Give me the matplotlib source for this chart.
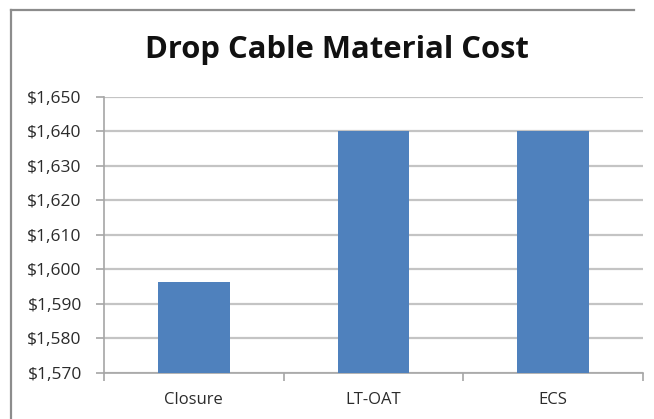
#!/usr/bin/env python3

import matplotlib
matplotlib.use("Agg")
import matplotlib.pyplot as plt
from matplotlib.lines import Line2D
from matplotlib.ticker import FuncFormatter, MultipleLocator

# ----------------------------
# Data
# ----------------------------
categories = ["Closure", "LT-OAT", "ECS"]
costs = [1596.3, 1640, 1640]
title = "Drop Cable Material Cost"
y_min, y_max, y_step = 1570, 1650, 10

bar_color = "#4f81bd"
grid_color = "#c4c4c4"
axis_color = "#a6a6a6"
text_color = "#2b2b2b"


def money(v, pos):
    return f"${v:,.0f}"


def main():
    plt.rcParams["font.family"] = ["Open Sans", "DejaVu Sans"]

    fig = plt.figure(figsize=(6.54, 4.19), dpi=100)
    W, H = 654, 419
    ax = fig.add_axes([104 / W, 1 - 373 / H, (643 - 104) / W, (373 - 97) / H])

    x = range(len(categories))
    ax.bar(x, costs, width=0.4, color=bar_color, zorder=3)

    ax.set_xlim(-0.5, len(categories) - 0.5)
    ax.set_ylim(y_min, y_max)
    ax.yaxis.set_major_locator(MultipleLocator(y_step))
    ax.yaxis.set_major_formatter(FuncFormatter(money))
    ax.grid(axis="y", color=grid_color, linewidth=1.6, zorder=0)

    # category labels centred under bars, tick marks between categories
    ax.set_xticks(list(x))
    ax.set_xticklabels(categories, fontsize=12, color=text_color)
    ax.tick_params(axis="x", length=0, pad=14)
    ax.set_xticks([i + 0.5 for i in range(-1, len(categories))], minor=True)
    ax.tick_params(axis="x", which="minor", length=6, width=1.2, color=axis_color)
    ax.tick_params(axis="y", length=6, width=1.2, color=axis_color,
                   labelsize=12.5, labelcolor=text_color, pad=10)

    for side in ("top", "right"):
        ax.spines[side].set_visible(False)
    for side in ("left", "bottom"):
        ax.spines[side].set_color(axis_color)
        ax.spines[side].set_linewidth(1.2)

    fig.text(337 / W, 1 - 50 / H, title, ha="center", va="center",
             fontsize=22.3, fontweight="bold", color="#111111")

    # chart frame: top and left edges
    frame = dict(color="#8c8c8c", linewidth=1.6, transform=fig.transFigure)
    fig.add_artist(Line2D([10.5 / W, 0.97], [1 - 10.5 / H] * 2, **frame))
    fig.add_artist(Line2D([10.5 / W] * 2, [0.0, 1 - 10.5 / H], **frame))

    fig.savefig("out.png", dpi=100)


if __name__ == "__main__":
    main()
